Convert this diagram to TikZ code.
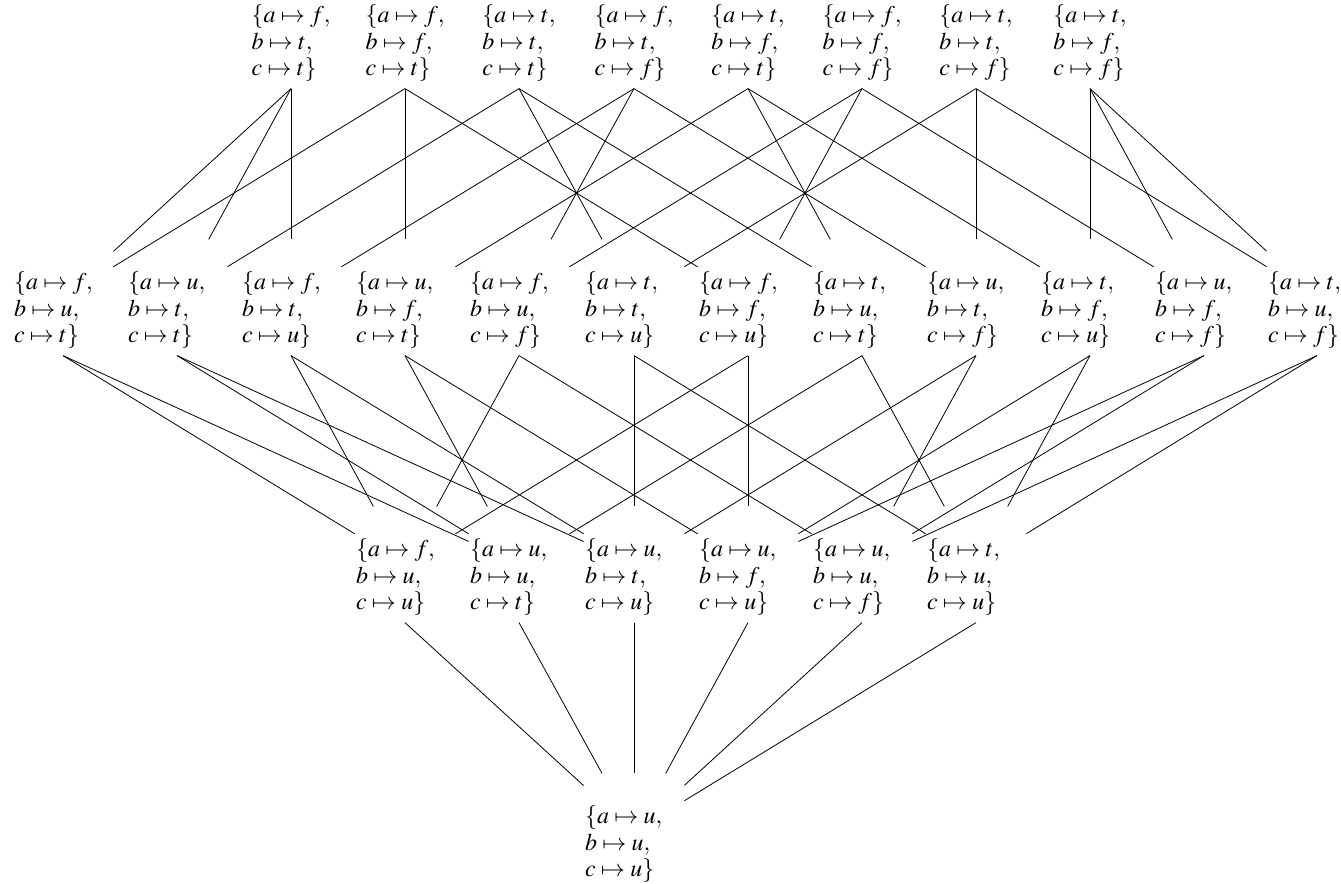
\documentclass[tikz,border=0pt]{standalone}
\usepackage{mathptmx}

\newcommand{\asg}[3]{\rule{0pt}{21.5pt}$\{a\mapsto #1,$\\$b\mapsto #2,$\\$c\mapsto #3\}$}

\begin{document}
\begin{tikzpicture}[x=0.5pt,y=-0.5pt,
    val/.style={align=left,inner ysep=3.4pt,font=\fontsize{12pt}{13.2pt}\selectfont},
    valw/.style={val,text width=49pt,inner xsep=0.5pt}]
  \useasboundingbox (0,0) rectangle (1341,884);
  % total assignments
  \node[val] (t1) at (291,30.5) {\asg{f}{t}{t}};
  \node[val] (t2) at (405,30.5) {\asg{f}{f}{t}};
  \node[val] (t3) at (519,30.5) {\asg{t}{t}{t}};
  \node[val] (t4) at (634,30.5) {\asg{f}{t}{f}};
  \node[val] (t5) at (748,30.5) {\asg{t}{f}{t}};
  \node[val] (t6) at (862,30.5) {\asg{f}{f}{f}};
  \node[val] (t7) at (976,30.5) {\asg{t}{t}{f}};
  \node[val] (t8) at (1090,30.5) {\asg{t}{f}{f}};
  % one u
  \node[valw] (m1) at (63,297.5) {\asg{f}{u}{t}};
  \node[valw] (m2) at (177,297.5) {\asg{u}{t}{t}};
  \node[valw] (m3) at (291,297.5) {\asg{f}{t}{u}};
  \node[valw] (m4) at (405,297.5) {\asg{u}{f}{t}};
  \node[valw] (m5) at (519,297.5) {\asg{f}{u}{f}};
  \node[valw] (m6) at (634,297.5) {\asg{t}{t}{u}};
  \node[valw] (m7) at (748,297.5) {\asg{f}{f}{u}};
  \node[valw] (m8) at (862,297.5) {\asg{t}{u}{t}};
  \node[valw] (m9) at (976,297.5) {\asg{u}{t}{f}};
  \node[valw] (m10) at (1090,297.5) {\asg{t}{f}{u}};
  \node[valw] (m11) at (1204,297.5) {\asg{u}{f}{f}};
  \node[valw] (m12) at (1317,297.5) {\asg{t}{u}{f}};
  % two u
  \node[valw] (l1) at (405,564.5) {\asg{f}{u}{u}};
  \node[valw] (l2) at (519,564.5) {\asg{u}{u}{t}};
  \node[valw] (l3) at (634,564.5) {\asg{u}{t}{u}};
  \node[valw] (l4) at (748,564.5) {\asg{u}{f}{u}};
  \node[valw] (l5) at (862,564.5) {\asg{u}{u}{f}};
  \node[valw] (l6) at (976,564.5) {\asg{t}{u}{u}};
  % all u
  \node[valw] (bot) at (634,831.5) {\asg{u}{u}{u}};

  \foreach \hi/\lo in {t1/m1,t2/m1,t1/m2,t3/m2,t1/m3,t4/m3,t2/m4,t5/m4,
      t4/m5,t6/m5,t3/m6,t7/m6,t2/m7,t6/m7,t3/m8,t5/m8,t4/m9,t7/m9,
      t5/m10,t8/m10,t6/m11,t8/m11,t7/m12,t8/m12}
    \draw (\hi.south) -- (\lo);
  \foreach \hi/\lo in {m1/l1,m5/l1,m3/l1,m7/l1,m1/l2,m8/l2,m2/l2,m4/l2,
      m2/l3,m9/l3,m3/l3,m6/l3,m4/l4,m11/l4,m7/l4,m10/l4,
      m5/l5,m12/l5,m9/l5,m11/l5,m8/l6,m12/l6,m6/l6,m10/l6}
    \draw (\hi.south) -- (\lo);
  \foreach \hi in {l1,l2,l3,l4,l5,l6}
    \draw (\hi.south) -- (bot);
\end{tikzpicture}
\end{document}
